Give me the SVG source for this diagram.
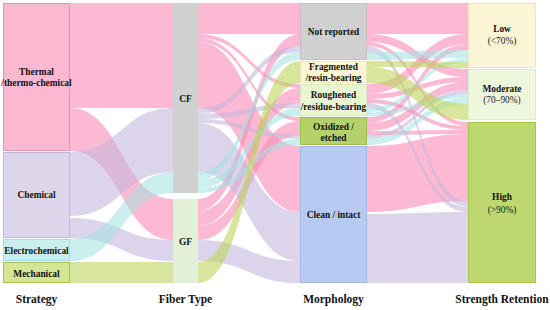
<svg xmlns="http://www.w3.org/2000/svg" width="550" height="310" viewBox="0 0 550 310">
<style>
.p{fill:#fa8ab5;fill-opacity:.6}
.l{fill:#c4b8dc;fill-opacity:.6}
.c{fill:#a0e2e2;fill-opacity:.55}
.g{fill:#bcd55a;fill-opacity:.6}
.n{stroke-width:1}
.t{font-size:9.4px;font-weight:bold;fill:#111;text-anchor:middle}
.s{font-size:9.4px;fill:#222;text-anchor:middle}
.a{font-size:11.5px;font-weight:bold;fill:#111;text-anchor:middle}
</style>
<rect width="550" height="310" fill="#fff"/>
<g id="connectors">
<path class="p" d="M70 3C121.5 3 121.5 3 173 3L173 108C121.5 108 121.5 108 70 108Z"/>
<path class="p" d="M70 108C121.5 108 121.5 199 173 199L173 240C121.5 240 121.5 151 70 151Z"/>
<path class="l" d="M70 152C121.5 152 121.5 108 173 108L173 172C121.5 172 121.5 216 70 216Z"/>
<path class="l" d="M70 218C121.5 218 121.5 240 173 240L173 261C121.5 261 121.5 238 70 238Z"/>
<path class="c" d="M70 239C121.5 239 121.5 172 173 172L173 193C121.5 193 121.5 261 70 261Z"/>
<path class="g" d="M70 262C121.5 262 121.5 262 173 262L173 283C121.5 283 121.5 283 70 283Z"/>
<path class="p" d="M198 3C249 3 249 3 300 3L300 34C249 34 249 34 198 34Z"/>
<path class="p" d="M198 34C249 34 249 84 300 84L300 88C249 88 249 38 198 38Z"/>
<path class="p" d="M198 38C249 38 249 117 300 117L300 121C249 121 249 42 198 42Z"/>
<path class="p" d="M198 42C249 42 249 146 300 146L300 212C249 212 249 108 198 108Z"/>
<path class="p" d="M198 199C249 199 249 34 300 34L300 46C249 46 249 211 198 211Z"/>
<path class="p" d="M198 211C249 211 249 88 300 88L300 103C249 103 249 226 198 226Z"/>
<path class="p" d="M198 226C249 226 249 121 300 121L300 135C249 135 249 240 198 240Z"/>
<path class="l" d="M198 108C249 108 249 46 300 46L300 52C249 52 249 114 198 114Z"/>
<path class="l" d="M198 114C249 114 249 103 300 103L300 108C249 108 249 119 198 119Z"/>
<path class="l" d="M198 119C249 119 249 135 300 135L300 139C249 139 249 123 198 123Z"/>
<path class="l" d="M198 123C249 123 249 212 300 212L300 261C249 261 249 172 198 172Z"/>
<path class="l" d="M198 240C249 240 249 261 300 261L300 283C249 283 249 261 198 261Z"/>
<path class="c" d="M198 172C249 172 249 52 300 52L300 60C249 60 249 180 198 180Z"/>
<path class="c" d="M198 180C249 180 249 108 300 108L300 116C249 116 249 188 198 188Z"/>
<path class="c" d="M198 188C249 188 249 139 300 139L300 145C249 145 249 193 198 193Z"/>
<path class="g" d="M198 262C249 262 249 61 300 61L300 83C249 83 249 283 198 283Z"/>
<path class="p" d="M367 3C417.5 3 417.5 3 468 3L468 34C417.5 34 417.5 34 367 34Z"/>
<path class="p" d="M367 34C417.5 34 417.5 69 468 69L468 77C417.5 77 417.5 42 367 42Z"/>
<path class="p" d="M367 42C417.5 42 417.5 122 468 122L468 126C417.5 126 417.5 46 367 46Z"/>
<path class="p" d="M367 84C417.5 84 417.5 34 468 34L468 44C417.5 44 417.5 94 367 94Z"/>
<path class="p" d="M367 94C417.5 94 417.5 77 468 77L468 82C417.5 82 417.5 99 367 99Z"/>
<path class="p" d="M367 99C417.5 99 417.5 126 468 126L468 130C417.5 130 417.5 103 367 103Z"/>
<path class="p" d="M367 117C417.5 117 417.5 44 468 44L468 50C417.5 50 417.5 123 367 123Z"/>
<path class="p" d="M367 123C417.5 123 417.5 82 468 82L468 90C417.5 90 417.5 131 367 131Z"/>
<path class="p" d="M367 131C417.5 131 417.5 130 468 130L468 134C417.5 134 417.5 135 367 135Z"/>
<path class="p" d="M367 146C417.5 146 417.5 134 468 134L468 201C417.5 201 417.5 212 367 212Z"/>
<path class="l" d="M367 46C417.5 46 417.5 201 468 201L468 207C417.5 207 417.5 52 367 52Z"/>
<path class="l" d="M367 103C417.5 103 417.5 207 468 207L468 212C417.5 212 417.5 108 367 108Z"/>
<path class="l" d="M367 135C417.5 135 417.5 90 468 90L468 94C417.5 94 417.5 139 367 139Z"/>
<path class="l" d="M367 214C417.5 214 417.5 212 468 212L468 283C417.5 283 417.5 283 367 283Z"/>
<path class="c" d="M367 52C417.5 52 417.5 50 468 50L468 58C417.5 58 417.5 60 367 60Z"/>
<path class="c" d="M367 108C417.5 108 417.5 58 468 58L468 62C417.5 62 417.5 112 367 112Z"/>
<path class="c" d="M367 112C417.5 112 417.5 94 468 94L468 98C417.5 98 417.5 116 367 116Z"/>
<path class="c" d="M367 139C417.5 139 417.5 98 468 98L468 104C417.5 104 417.5 145 367 145Z"/>
<path class="g" d="M367 61C417.5 61 417.5 62 468 62L468 68C417.5 68 417.5 67 367 67Z"/>
<path class="g" d="M367 67C417.5 67 417.5 104 468 104L468 120C417.5 120 417.5 83 367 83Z"/>
</g>
<g font-family="Liberation Serif, DejaVu Serif, serif">
<g id="node-thermal"><rect class="n" x="3.5" y="3.5" width="66" height="147" fill="#fcb8d1" stroke="#ec8fb7"/><text class="t" x="36.5" y="75">Thermal</text><text class="t" x="36.5" y="86">/thermo-chemical</text></g>
<g id="node-chemical"><rect class="n" x="3.5" y="152.5" width="66" height="85" fill="#ddd6ea" stroke="#c0b5dc"/><text class="t" x="36.5" y="198">Chemical</text></g>
<g id="node-electrochemical"><rect class="n" x="3.5" y="239.5" width="66" height="21" fill="#c9eeee" stroke="#a6dcdc"/><text class="t" x="36.5" y="254">Electrochemical</text></g>
<g id="node-mechanical"><rect class="n" x="3.5" y="262.5" width="66" height="20" fill="#d5e597" stroke="#a9c254"/><text class="t" x="36.5" y="277">Mechanical</text></g>
<g id="node-cf"><rect x="173" y="3" width="25" height="190" fill="#d0d0d0"/><text class="t" x="185.5" y="102">CF</text></g>
<g id="node-gf"><rect x="173" y="199" width="25" height="84" fill="#e3f0d8"/><text class="t" x="185.5" y="245">GF</text></g>
<g id="node-not-reported"><rect class="n" x="300.5" y="3.5" width="66" height="56" fill="#d0d0d0" stroke="#c2c2c2"/><text class="t" x="333.5" y="35">Not reported</text></g>
<g id="node-fragmented"><rect class="n" x="300.5" y="61.5" width="66" height="21" fill="#fcf6d4" stroke="#efe7bd"/><text class="t" x="333.5" y="70">Fragmented</text><text class="t" x="333.5" y="81">/resin-bearing</text></g>
<g id="node-roughened"><rect class="n" x="300.5" y="84.5" width="66" height="31" fill="#e9f5d3" stroke="#d8eac2"/><text class="t" x="333.5" y="98">Roughened</text><text class="t" x="333.5" y="110">/residue-bearing</text></g>
<g id="node-oxidized"><rect class="n" x="300.5" y="117.5" width="66" height="27" fill="#b5d26a" stroke="#9cbf4a"/><text class="t" x="333.5" y="130">Oxidized /</text><text class="t" x="333.5" y="141">etched</text></g>
<g id="node-clean"><rect class="n" x="300.5" y="146.5" width="66" height="136" fill="#b6caf3" stroke="#9fb7ea"/><text class="t" x="333.5" y="218">Clean / intact</text></g>
<g id="node-low"><rect class="n" x="468.5" y="3.5" width="67" height="64" fill="#fcf5d6" stroke="#efe6c0"/><text class="t" x="502" y="32">Low</text><text class="s" x="502" y="44">(&lt;70%)</text></g>
<g id="node-moderate"><rect class="n" x="468.5" y="69.5" width="67" height="50" fill="#eef6dc" stroke="#dfeac8"/><text class="t" x="502" y="92">Moderate</text><text class="s" x="502" y="103">(70–90%)</text></g>
<g id="node-high"><rect class="n" x="468.5" y="122.5" width="67" height="160" fill="#bcd86e" stroke="#a4c650"/><text class="t" x="502" y="200">High</text><text class="s" x="502" y="213">(&gt;90%)</text></g>
<g id="axis-labels">
<text class="a" x="36.5" y="303">Strategy</text>
<text class="a" x="185.5" y="303">Fiber Type</text>
<text class="a" x="333.5" y="303">Morphology</text>
<text class="a" x="502" y="303">Strength Retention</text>
</g>
</g>
</svg>
